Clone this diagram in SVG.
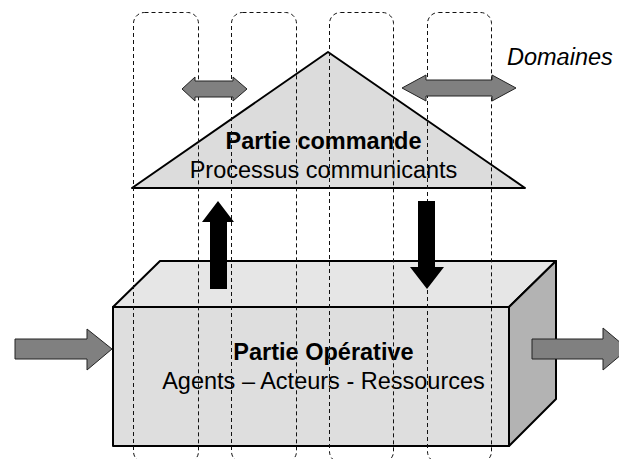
<svg xmlns="http://www.w3.org/2000/svg" width="619" height="459" viewBox="0 0 619 459">
<style>
text{font-family:"Liberation Sans",Arial,sans-serif;font-size:23.5px;fill:#000}
.b{font-weight:bold}
.col{fill:none;stroke:#111;stroke-width:1;stroke-dasharray:4 3}
.ga{fill:#808080;stroke:#222;stroke-width:1}
.ba{fill:#000;stroke:none}
.edge{stroke:#000;stroke-width:2;stroke-linejoin:round}
</style>
<rect width="619" height="459" fill="#fff"/>
<g id="commande">
<polygon class="edge" points="328,52 525,188 132,188" fill="#dcdcdc"/>
<text class="b" x="323.5" y="149" text-anchor="middle">Partie commande</text>
<text x="323.5" y="178" text-anchor="middle">Processus communicants</text>
</g>
<g id="operative">
<polygon class="edge" points="113,307 160,261 556,261 509,307" fill="#e6e6e6"/>
<polygon class="edge" points="509,307 556,261 556,399 509,446" fill="#b3b3b3"/>
<rect class="edge" x="113" y="307" width="396" height="139" fill="#dedede"/>
<text class="b" x="323.5" y="360" text-anchor="middle">Partie Opérative</text>
<text x="323.5" y="389" text-anchor="middle">Agents – Acteurs - Ressources</text>
</g>
<g id="domaines">
<rect class="col" x="133.5" y="12.5" width="65" height="450" rx="11"/>
<rect class="col" x="231.5" y="12.5" width="65" height="450" rx="11"/>
<rect class="col" x="329.5" y="12.5" width="64" height="450" rx="11"/>
<rect class="col" x="427.5" y="12.5" width="64" height="450" rx="11"/>
<text x="507" y="65" font-style="italic">Domaines</text>
</g>
<g id="connectors">
<polygon class="ga" points="182,89 195,77 195,81 233,81 233,77 247,89 233,101 233,97 195,97 195,101"/>
<polygon class="ga" points="402,88 426,75 426,80 492,80 492,75 516,88 492,101 492,96 426,96 426,101"/>
<polygon class="ba" points="218,201 234,222 227,222 227,289 210,289 210,222 202,222"/>
<polygon class="ba" points="418,201 435,201 435,267 444,267 427,289 410,267 418,267"/>
<polygon class="ga" points="15,339 87,339 87,329 112,349 87,370 87,359 15,359"/>
<polygon class="ga" points="532,339 603,339 603,328 628,349 603,370 603,359 532,359"/>
</g>
</svg>
